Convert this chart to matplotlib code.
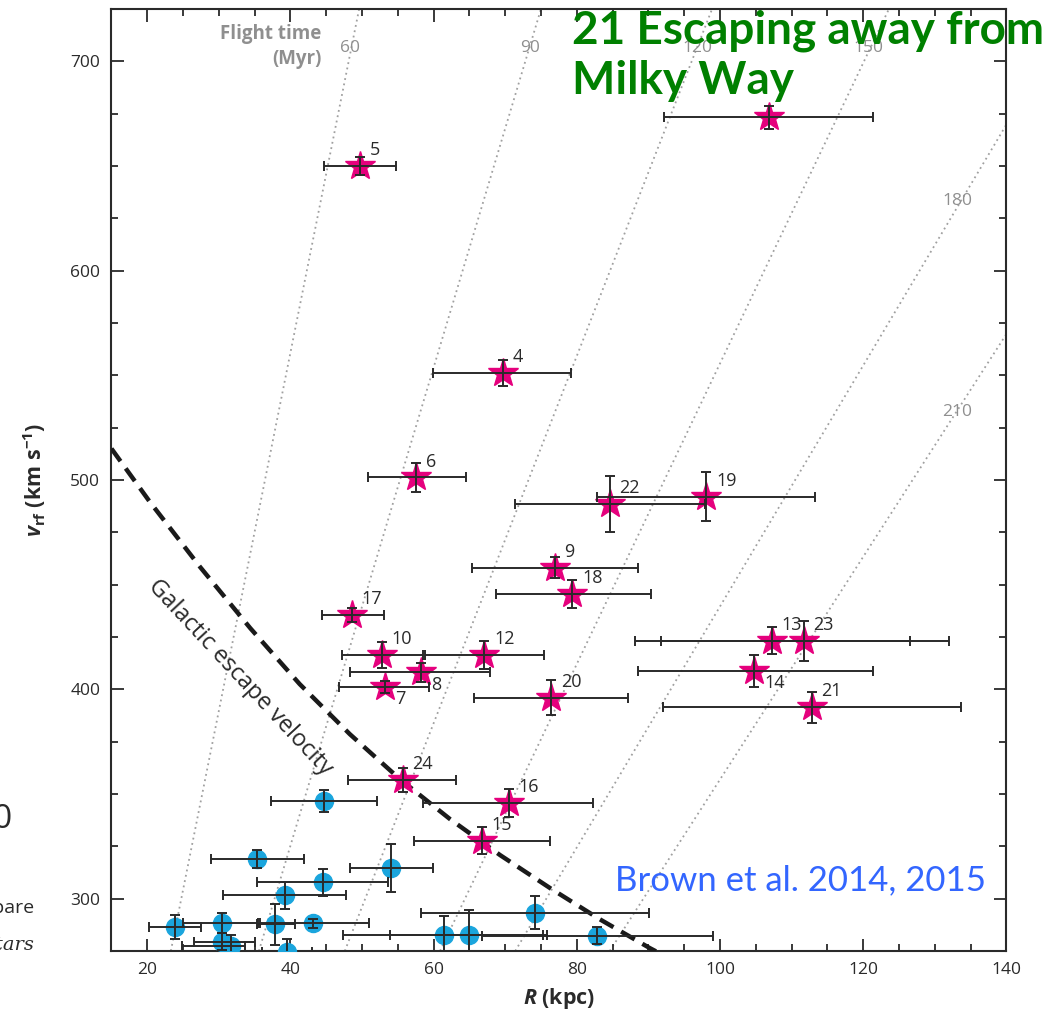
import matplotlib
matplotlib.use('Agg')
import matplotlib.pyplot as plt
import numpy as np
from matplotlib.ticker import MultipleLocator

plt.rcParams.update({
    'font.family': ['Open Sans', 'DejaVu Sans'],
    'mathtext.fontset': 'custom',
    'mathtext.it': 'Open Sans:italic:bold',
    'mathtext.rm': 'Open Sans:bold',
    'mathtext.bf': 'Open Sans:bold',
})

# ── HVS data: radius (kpc), rest-frame velocity (km/s) ──────────
star_id = ['5', '', '4', '6', '22', '19', '9', '18', '17', '10', '12',
           '8', '7', '20', '13', '23', '14', '21', '24', '16', '15']
star_R = [49.7, 106.8, 69.7, 57.6, 84.6, 98.1, 76.9, 79.4, 48.6, 52.8, 67.1,
          58.3, 53.2, 76.4, 107.2, 111.7, 104.8, 112.8, 55.7, 70.5, 66.7]
star_v = [650.0, 673.2, 551.1, 501.2, 488.5, 492.0, 458.2, 445.5, 435.5, 416.4, 416.4,
          408.1, 401.2, 396.1, 423.2, 423.2, 408.9, 391.4, 356.8, 345.7, 327.7]
star_Rlo = [44.7, 92.2, 59.9, 50.8, 71.4, 82.8, 65.3, 68.7, 44.4, 47.2, 58.8,
            48.3, 46.8, 65.6, 88.1, 91.7, 88.6, 92.0, 48.1, 58.5, 57.2]
star_Rhi = [54.7, 121.4, 79.2, 64.5, 97.9, 113.3, 88.6, 90.3, 53.1, 58.5, 75.4,
            67.9, 59.3, 87.1, 126.6, 132.0, 121.4, 133.6, 63.1, 82.2, 76.3]
star_verr = [4.5, 5.6, 6.3, 6.8, 13.2, 11.8, 5.1, 6.5, 3.2, 6.0, 6.5,
             4.4, 3.0, 8.3, 6.4, 9.6, 7.6, 7.4, 5.6, 6.8, 6.4]
labels_below = {'7', '8', '14'}

# bound stars (blue)
bound_R = [44.7, 35.4, 54.0, 44.6, 39.3, 23.9, 30.5, 37.9, 43.1, 30.5, 31.7, 39.5,
           61.4, 64.9, 74.2, 82.8]
bound_v = [346.8, 318.9, 314.6, 307.8, 301.7, 286.3, 288.2, 287.9, 288.2, 279.4, 277.5, 274.7,
           282.8, 282.8, 293.4, 282.3]
bound_Rlo = [37.3, 28.9, 48.3, 35.3, 30.6, 20.3, 25.0, 35.3, 35.8, 26.6, 24.8, 36.0,
             47.4, 53.9, 58.3, 66.7]
bound_Rhi = [52.1, 41.9, 59.9, 53.7, 47.7, 27.5, 35.5, 40.6, 51.0, 35.1, 33.7, 43.0,
             75.3, 75.8, 90.1, 99.0]
bound_verr = [5.2, 4.2, 11.4, 6.6, 6.5, 5.7, 4.8, 9.8, 2.2, 4.0, 5.0, 6.0,
              9.0, 12.0, 7.9, 4.0]

# flight-time isochrones: R at v=275 and v=725
flight_t = [60, 90, 120, 150, 180, 210]
flight_v = [275, 725]
flight_R_lo = [23.3, 35.6, 47.6, 60.9, 71.4, 84.6]
flight_R_hi = [49.6, 75.0, 98.9, 123.6, 149.6, 169.2]
flight_lab_R = [48.3, 73.5, 96.8, 120.7, 133.1, 133.1]
flight_lab_v = [706.5, 706.5, 706.5, 706.5, 633.4, 532.6]

# Galactic escape velocity curve
esc_R = [15.0, 20.4, 27.4, 34.4, 41.3, 48.3, 55.3, 62.3, 69.3, 76.3, 83.2, 90.2, 91.2]
esc_v = [515.0, 489.4, 458.4, 429.2, 402.5, 378.6, 357.1, 338.0, 320.8, 305.0, 290.2,
         276.4, 274.6]

PINK = '#E5007D'
BLUE = '#1AA5DD'
INK = '#2a2a2a'
GREY = '#8f8f8f'

fig = plt.figure(figsize=(10.61, 10.19), dpi=100)
ax = fig.add_axes([0.105, 0.0667, 0.8435, 0.9245])

for lo, hi in zip(flight_R_lo, flight_R_hi):
    ax.plot([lo, hi], flight_v, ls=(0, (1, 2)), color='#a0a0a0', lw=1.3, zorder=1)
for t, r, v in zip(flight_t, flight_lab_R, flight_lab_v):
    ax.text(r, v, str(t), color=GREY, fontsize=12.5, ha='center', va='center', zorder=2)
ax.text(44.3, 707.0, 'Flight time\n(Myr)', color=GREY, fontsize=13.5, fontweight='bold',
        ha='right', va='center', linespacing=1.3, zorder=2)

ax.plot(esc_R, esc_v, color='#1a1a1a', lw=3.2, dashes=(3.5, 2.0), zorder=3)
ax.text(32.9, 405.5, 'Galactic escape velocity', rotation=-47, rotation_mode='anchor',
        ha='center', va='center', fontsize=17, color=INK, zorder=3)

# markers first, error bars on top
ax.plot(bound_R, bound_v, 'o', ms=13, color=BLUE, mec=BLUE, zorder=4)
ax.plot(star_R, star_v, '*', ms=22, color=PINK, mec=PINK, zorder=4)

bR = np.array(bound_R)
ax.errorbar(bR, bound_v, xerr=[bR - np.array(bound_Rlo), np.array(bound_Rhi) - bR],
            yerr=bound_verr, fmt='none', ecolor=INK, elinewidth=1.4, capsize=3.5,
            capthick=1.4, zorder=5)
sR = np.array(star_R)
ax.errorbar(sR, star_v, xerr=[sR - np.array(star_Rlo), np.array(star_Rhi) - sR],
            yerr=star_verr, fmt='none', ecolor=INK, elinewidth=1.4, capsize=3.5,
            capthick=1.4, zorder=5)

for lab, r, v in zip(star_id, star_R, star_v):
    if not lab:
        continue
    dy = -9 if lab in labels_below else 11.5
    ax.annotate(lab, (r, v), xytext=(7, dy), textcoords='offset points',
                ha='left', va='center', fontsize=13, color=INK, zorder=6)

ax.set_xlim(15, 140)
ax.set_ylim(275, 725)
ax.xaxis.set_major_locator(MultipleLocator(20))
ax.xaxis.set_minor_locator(MultipleLocator(5))
ax.yaxis.set_major_locator(MultipleLocator(100))
ax.yaxis.set_minor_locator(MultipleLocator(25))
ax.tick_params(which='both', direction='in', top=True, right=True, colors=INK,
               labelsize=12.5, width=1.3)
ax.tick_params(which='major', length=9, pad=8)
ax.tick_params(which='minor', length=5)
for s in ax.spines.values():
    s.set_linewidth(1.5)
    s.set_color(INK)

ax.set_xlabel(r'$R$ (kpc)', fontsize=15.5, fontweight='bold', color=INK, labelpad=6)
ax.set_ylabel(r'$v_{\rm rf}$ (km s$^{-1}$)', fontsize=15.5, fontweight='bold', color=INK,
              labelpad=16)

fig.text(0.539, 0.991, '21 Escaping away from\nMilky Way', color='#008000', fontsize=33,
         fontweight='bold', family=['Lato', 'DejaVu Sans'], ha='left', va='top',
         linespacing=1.25)
fig.text(0.929, 1 - 880 / 1019, 'Brown et al. 2014, 2015', color='#3366FF', fontsize=25,
         family=['Lato', 'DejaVu Sans'], ha='right', va='center')

# clipped fragments along the left edge
fig.text(0.012, 1 - 820 / 1019, '10', fontsize=24, color=INK, ha='right', va='center')
fig.text(0.033, 1 - 908 / 1019, 'compare', fontsize=14, color=INK, ha='right', va='center')
fig.text(0.033, 1 - 945 / 1019, 'stars', fontsize=14, color=INK, style='italic',
         family=['DejaVu Serif'], ha='right', va='center')

fig.savefig('out.png', dpi=100)
